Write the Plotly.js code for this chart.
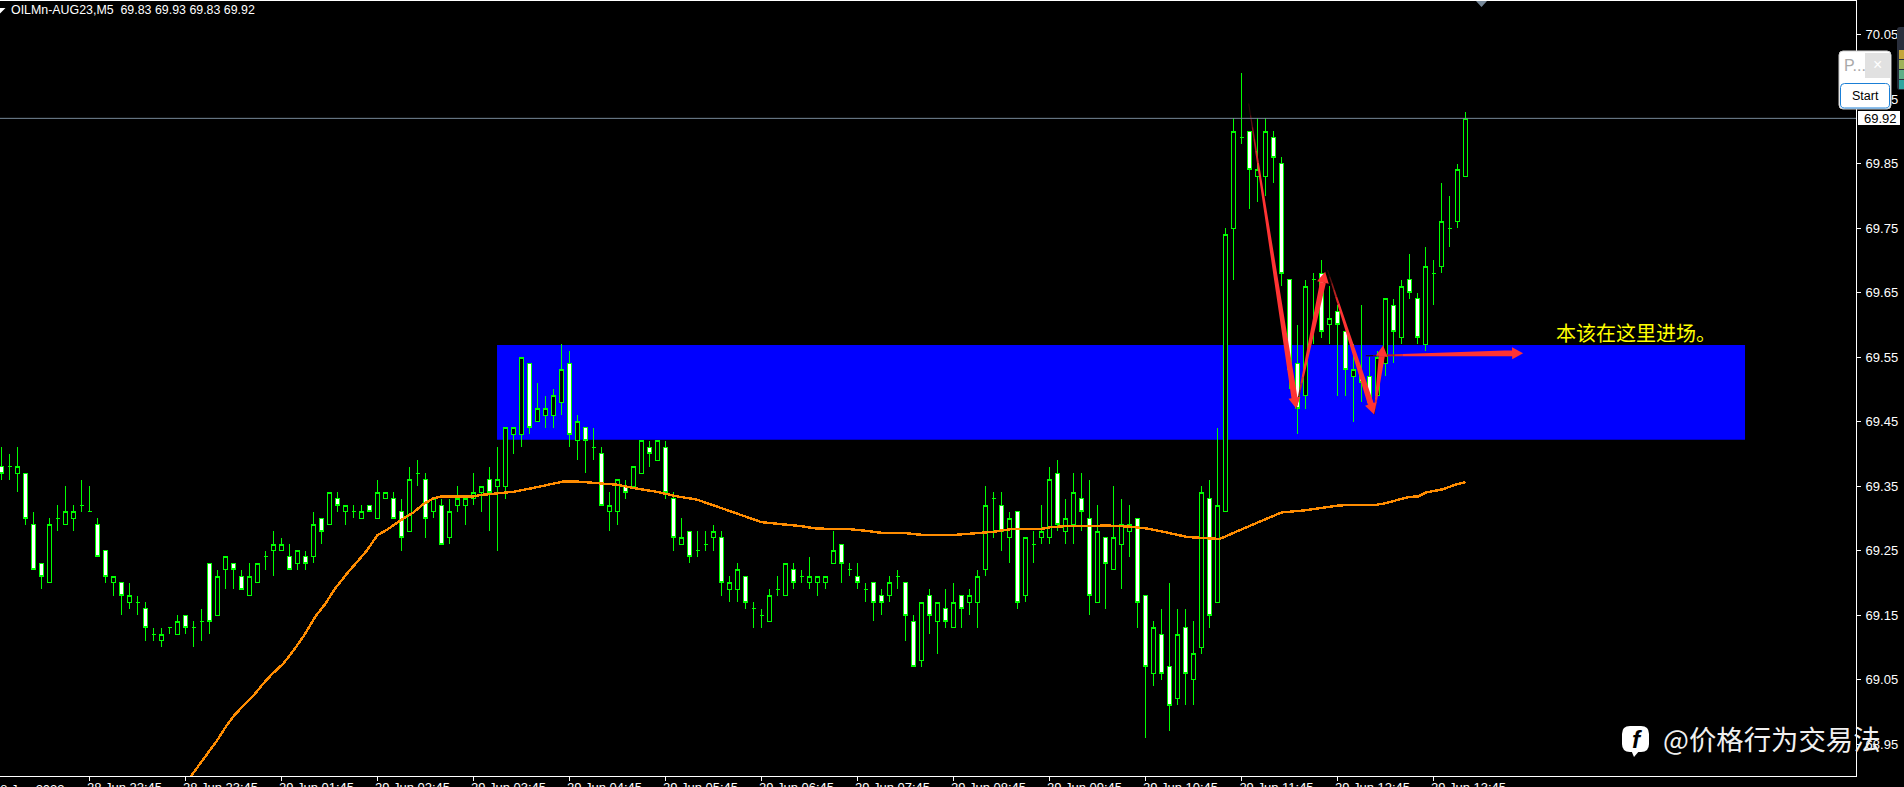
<!DOCTYPE html>
<html><head><meta charset="utf-8">
<script src="https://cdn.plot.ly/plotly-3.0.1.min.js"></script>
<style>html,body{margin:0;padding:0;background:#000;overflow:hidden}#c{width:1904px;height:787px}
.main-svg .boxlayer path{shape-rendering:crispEdges !important}
.main-svg .scatterlayer path.js-line{shape-rendering:crispEdges !important}
</style>
</head><body><div id="c"></div>
<script>
const open_ = [69.38,69.38,69.37,69.37,69.29,69.23,69.20,69.30,69.29,69.30,69.32,69.31,69.29,69.25,69.20,69.20,69.17,69.17,69.16,69.12,
69.11,69.13,69.12,69.15,69.13,69.14,69.23,69.15,69.22,69.23,69.21,69.18,69.20,69.24,69.25,69.25,69.24,69.23,69.24,69.24,
69.30,69.29,69.33,69.31,69.31,69.30,69.32,69.30,69.33,69.33,69.31,69.28,69.37,69.36,69.31,69.32,69.27,69.32,69.32,69.33,
69.34,69.36,69.35,69.35,69.43,69.43,69.54,69.45,69.46,69.46,69.48,69.54,69.42,69.44,69.41,69.40,69.31,69.31,69.35,69.35,
69.37,69.41,69.39,69.41,69.33,69.26,69.28,69.25,69.26,69.27,69.27,69.19,69.19,69.21,69.16,69.15,69.14,69.19,69.18,69.22,
69.21,69.20,69.20,69.20,69.23,69.26,69.22,69.21,69.19,69.20,69.18,69.18,69.21,69.20,69.14,69.08,69.18,69.14,69.16,69.13,
69.18,69.17,69.17,69.22,69.33,69.32,69.27,69.31,69.18,69.26,69.27,69.27,69.37,69.28,69.29,69.33,69.30,69.17,69.27,69.22,
69.26,69.28,69.30,69.18,69.06,69.12,69.07,69.02,69.13,69.05,69.10,69.33,69.17,69.31,69.75,69.89,69.90,69.83,69.83,69.89,
69.85,69.67,69.54,69.49,69.67,69.68,69.60,69.62,69.59,69.52,69.52,69.52,69.49,69.54,69.63,69.58,69.67,69.64,69.57,69.68,
69.69,69.75,69.76,69.83];
const high = [69.41,69.40,69.41,69.37,69.31,69.23,69.30,69.32,69.35,69.32,69.36,69.35,69.30,69.25,69.21,69.20,69.20,69.18,69.17,69.13,
69.13,69.13,69.15,69.15,69.14,69.16,69.23,69.22,69.24,69.23,69.22,69.23,69.23,69.25,69.28,69.27,69.26,69.25,69.25,69.31,
69.30,69.34,69.34,69.32,69.32,69.32,69.32,69.36,69.34,69.34,69.33,69.38,69.39,69.37,69.33,69.33,69.33,69.35,69.33,69.37,
69.35,69.38,69.41,69.44,69.44,69.55,69.54,69.51,69.49,69.50,69.57,69.56,69.46,69.44,69.44,69.41,69.34,69.36,69.36,69.38,
69.42,69.42,69.42,69.42,69.34,69.30,69.28,69.28,69.28,69.29,69.28,69.21,69.23,69.21,69.17,69.16,69.19,69.21,69.23,69.23,
69.22,69.24,69.21,69.21,69.28,69.26,69.23,69.23,69.20,69.20,69.19,69.21,69.22,69.20,69.15,69.17,69.19,69.17,69.19,69.20,
69.18,69.19,69.22,69.35,69.34,69.34,69.31,69.31,69.27,69.28,69.32,69.38,69.39,69.33,69.37,69.37,69.36,69.32,69.27,69.35,
69.33,69.32,69.30,69.18,69.14,69.16,69.20,69.16,69.16,69.14,69.35,69.36,69.44,69.75,69.92,69.99,69.90,69.92,69.92,69.90,
69.86,69.67,69.60,69.67,69.68,69.70,69.66,69.63,69.59,69.57,69.63,69.55,69.56,69.64,69.64,69.67,69.71,69.65,69.72,69.70,
69.82,69.80,69.85,69.93];
const low = [69.36,69.36,69.34,69.29,69.22,69.19,69.20,69.28,69.29,69.28,69.31,69.31,69.24,69.20,69.18,69.15,69.16,69.15,69.11,69.11,
69.10,69.12,69.12,69.12,69.10,69.11,69.12,69.15,69.19,69.19,69.19,69.18,69.20,69.22,69.21,69.25,69.22,69.22,69.22,69.23,
69.26,69.29,69.31,69.29,69.30,69.30,69.31,69.30,69.33,69.30,69.25,69.28,69.35,69.27,69.30,69.26,69.26,69.31,69.29,69.32,
69.31,69.28,69.25,69.33,69.40,69.41,69.43,69.45,69.44,69.44,69.46,69.41,69.39,69.37,69.39,69.32,69.28,69.29,69.33,69.35,
69.37,69.38,69.39,69.33,69.25,69.26,69.23,69.24,69.25,69.25,69.18,69.17,69.17,69.16,69.13,69.13,69.14,69.18,69.18,69.19,
69.20,69.19,69.18,69.19,69.23,69.20,69.21,69.19,69.17,69.14,69.15,69.17,69.19,69.11,69.07,69.07,69.12,69.09,69.13,69.13,
69.13,69.15,69.13,69.21,69.27,69.25,69.23,69.16,69.17,69.23,69.26,69.26,69.28,69.26,69.26,69.28,69.15,69.17,69.16,69.22,
69.19,69.24,69.13,68.96,69.04,69.05,68.97,69.01,69.01,69.01,69.09,69.13,69.17,69.31,69.67,69.88,69.78,69.79,69.80,69.82,
69.66,69.50,69.43,69.47,69.57,69.58,69.57,69.49,69.49,69.45,69.48,69.48,69.49,69.52,69.54,69.57,69.64,69.57,69.56,69.63,
69.68,69.72,69.75,69.83];
const close_ = [69.37,69.38,69.38,69.30,69.22,69.21,69.29,69.30,69.31,69.31,69.32,69.31,69.24,69.21,69.21,69.18,69.18,69.17,69.13,69.12,
69.12,69.13,69.14,69.13,69.13,69.14,69.14,69.21,69.24,69.22,69.19,69.21,69.23,69.24,69.26,69.26,69.22,69.25,69.23,69.29,
69.28,69.34,69.32,69.32,69.31,69.31,69.31,69.34,69.34,69.30,69.27,69.36,69.37,69.30,69.33,69.26,69.31,69.33,69.33,69.34,
69.35,69.34,69.36,69.44,69.44,69.55,69.44,69.47,69.47,69.49,69.53,69.43,69.45,69.42,69.41,69.32,69.32,69.36,69.34,69.38,
69.42,69.40,69.42,69.34,69.27,69.27,69.24,69.25,69.26,69.28,69.20,69.20,69.22,69.17,69.16,69.15,69.18,69.19,69.23,69.20,
69.21,69.21,69.21,69.21,69.25,69.23,69.22,69.20,69.19,69.17,69.17,69.20,69.21,69.15,69.07,69.17,69.15,69.17,69.14,69.17,
69.16,69.18,69.21,69.32,69.33,69.28,69.30,69.17,69.27,69.26,69.28,69.36,69.29,69.30,69.34,69.31,69.18,69.28,69.23,69.27,
69.29,69.29,69.17,69.07,69.13,69.06,69.01,69.12,69.06,69.09,69.34,69.15,69.32,69.74,69.90,69.89,69.84,69.84,69.90,69.86,
69.68,69.53,69.47,69.66,69.67,69.59,69.61,69.60,69.53,69.53,69.51,69.48,69.55,69.64,69.59,69.66,69.65,69.58,69.69,69.68,
69.76,69.75,69.84,69.92];
const candleIndex = open_.map((_, i) => i);

const maIndex = [23.67,24.83,26.92,28,29,29.67,31.5,32.75,33.79,35.25,36.5,37.75,39.2,40.46,41.7,43.17,44.6,45.67,47,48.17,50.04,51.5,52.75,54,55.04,59,59.83,
64,66.08,68.17,70.25,71.9,74,76.9,79.4,81.9,84.4,86.9,89,91.1,93.2,95,97.3,99.8,101.9,106,107.75,110.25,112.9,115.25,119,122.3,124,126.1,129.8,131.1,133.2,136.9,137.75,141,143.2,145.25,148.2,150.7,152.3,155.25,157.3,160,162.75,165.7,167.3,171.9,172.9,175,176,177.1,178.1,180.2,181.7,183];
const maValue = [68.900,68.920,68.955,68.976,68.993,69.002,69.025,69.044,69.058,69.075,69.095,69.117,69.147,69.167,69.191,69.214,69.235,69.250,69.274,69.282,69.298,69.309,69.322,69.331,69.334,69.334,69.336,
69.341,69.346,69.352,69.357,69.357,69.355,69.352,69.346,69.341,69.334,69.329,69.320,69.311,69.302,69.294,69.291,69.288,69.284,69.283,69.281,69.277,69.277,69.274,69.274,69.277,69.279,69.283,69.283,69.286,69.288,69.288,69.289,69.287,69.284,69.279,69.271,69.269,69.268,69.284,69.295,69.309,69.312,69.317,69.320,69.321,69.323,69.330,69.333,69.334,69.340,69.345,69.352,69.356];

const xTickVals = [11,23,35,47,59,71,83,95,107,119,131,143,155,167,179];
const xTickText = ["28 Jun 22:45","28 Jun 23:45","29 Jun 01:45","29 Jun 02:45","29 Jun 03:45","29 Jun 04:45","29 Jun 05:45","29 Jun 06:45","29 Jun 07:45","29 Jun 08:45","29 Jun 09:45","29 Jun 10:45","29 Jun 11:45","29 Jun 12:45","29 Jun 13:45"];
const yTickVals = [68.95,69.05,69.15,69.25,69.35,69.45,69.55,69.65,69.75,69.85,69.95,70.05];

const zoneIndex = [61.94,217.94];
const zonePrice = [69.4218,69.5686];

// arrows: [tail index, tail price, tip index, tip price]
const arrow1 = [155.9,69.943,161.83,69.470];
const arrow2 = [161.83,69.470,165.46,69.682];
const arrow3 = [165.75,69.685,171.58,69.461];
const arrow4 = [171.58,69.461,172.71,69.568];
const arrow5 = [170.54,69.552,190.2,69.556];
const arrows = [arrow1,arrow2,arrow3,arrow4,arrow5];

const headerText = "OILMn-AUG23,M5\u00A0\u00A069.83 69.93 69.83 69.92";
const firstDateLabel = "28 Jun 2023";
const noteText = "本该在这里进场。";
const watermarkText = "@价格行为交易法";
const lastPrice = close_[close_.length-1];

// --- geometry of the plot area
const W=1904,H=787,mL=0,mR=48,mT=1,mB=11;
const pw=W-mL-mR, ph=H-mT-mB;
const xRange=[-0.1875,231.8125];
const yRange=[70.05-(776-34.5)/645,70.05+(34.5-1)/645];
const pxPerX=pw/(xRange[1]-xRange[0]), pxPerY=ph/(yRange[1]-yRange[0]);
const PX=x=>x/pw, PY=y=>(mT+ph-y)/ph;

function pathPx(pts){return pts.map((p,i)=>(i?'L':'M')+PX(p[0]).toFixed(6)+' '+PY(p[1]).toFixed(6)).join(' ')+' Z';}
function roundRect(x0,y0,x1,y1,r){
  const c=(x,y)=>PX(x).toFixed(6)+' '+PY(y).toFixed(6);
  return 'M'+c(x0+r,y0)+' L'+c(x1-r,y0)+' Q'+c(x1,y0)+' '+c(x1,y0+r)+' L'+c(x1,y1-r)+' Q'+c(x1,y1)+' '+c(x1-r,y1)+' L'+c(x0+r,y1)+' Q'+c(x0,y1)+' '+c(x0,y1-r)+' L'+c(x0,y0+r)+' Q'+c(x0,y0)+' '+c(x0+r,y0)+' Z';
}
const pShape=(path,fill,line,lw)=>({type:'path',xref:'paper',yref:'paper',layer:'above',path,fillcolor:fill,line:{color:line||fill,width:lw===undefined?0:lw}});
const pRect=(x0,y0,x1,y1,fill)=>({type:'rect',xref:'paper',yref:'paper',layer:'above',x0:PX(x0),x1:PX(x1),y0:PY(y1),y1:PY(y0),fillcolor:fill,line:{width:0}});
const pText=(x,y,text,size,color,family,anchor,extra)=>Object.assign({xref:'paper',yref:'paper',x:PX(x),y:PY(y),text,showarrow:false,xanchor:anchor||'left',yanchor:'middle',borderpad:0,font:{size,color,family:family||'"Liberation Sans",Arial,sans-serif'}},extra||{});

// --- tapered arrows, from the arrow arrays through data units
const fadeColors=['#2a0808','#5a1010','#8a1818','#b82020','#e02828','#ff3333'];
const arrowX=fadeColors.map(()=>[]), arrowY=fadeColors.map(()=>[]);
arrows.forEach(a=>{
  const dx=(a[2]-a[0])*pxPerX, dy=-(a[3]-a[1])*pxPerY, L=Math.hypot(dx,dy);
  const ux=dx/L, uy=dy/L, nx=-uy, ny=ux;
  const headLen=11, headHalf=6, shaftMax=3, tailHalf=0.5;
  const toData=(t,off)=>[a[0]+(ux*t+nx*off)/pxPerX, a[1]-(uy*t+ny*off)/pxPerY];
  const shaftEnd=L-headLen;
  const halfAt=t=>tailHalf+(shaftMax-tailHalf)*t/shaftEnd;
  const fadeLen=Math.min(60,shaftEnd*0.25);
  const stops=[0,fadeLen*0.2,fadeLen*0.4,fadeLen*0.6,fadeLen*0.8,fadeLen,shaftEnd];
  for(let i=0;i<fadeColors.length;i++){
    const t0=stops[i],t1=stops[i+1];
    [toData(t0,halfAt(t0)),toData(t1,halfAt(t1)),toData(t1,-halfAt(t1)),toData(t0,-halfAt(t0)),toData(t0,halfAt(t0))].forEach(p=>{arrowX[i].push(p[0]);arrowY[i].push(p[1]);});
    arrowX[i].push(null);arrowY[i].push(null);
  }
  const last=fadeColors.length-1;
  [toData(shaftEnd,headHalf),toData(L,0),toData(shaftEnd,-headHalf),toData(shaftEnd,headHalf)].forEach(p=>{arrowX[last].push(p[0]);arrowY[last].push(p[1]);});
  arrowX[last].push(null);arrowY[last].push(null);
});

const traces=[
 {type:'candlestick',x:candleIndex,open:open_,high,low,close:close_,whiskerwidth:0,
  increasing:{line:{color:'#00ff00',width:1},fillcolor:'#000000'},
  decreasing:{line:{color:'#00ff00',width:1},fillcolor:'#ffffff'},hoverinfo:'skip',showlegend:false},
 {type:'scatter',mode:'lines',x:maIndex,y:maValue,line:{color:'#ff8c00',width:2.4},hoverinfo:'skip',showlegend:false}
].concat(fadeColors.map((c,i)=>({type:'scatter',mode:'lines',x:arrowX[i],y:arrowY[i],fill:'toself',fillcolor:c,line:{width:0,color:c},hoverinfo:'skip',showlegend:false})));

const meterColors=['#c4a63a','#9fb25a','#5fae86','#2fa6a0'];
const shapes=[
 {type:'rect',xref:'x',yref:'y',layer:'below',x0:zoneIndex[0],x1:zoneIndex[1],y0:zonePrice[0],y1:zonePrice[1],fillcolor:'#0000ff',line:{width:0}},
 {type:'line',xref:'paper',yref:'y',layer:'above',x0:0,x1:1,y0:lastPrice,y1:lastPrice,line:{color:'#778899',width:1}},
 pShape(pathPx([[1476,1],[1487,1],[1481.5,7]]),'#778899'),
 pShape(pathPx([[0,8],[5.5,8],[0,13.5]]),'#ffffff'),
 pRect(1858,111,1900,125,'#ffffff'),
 pShape(roundRect(1897,27,1910,90,3),'#2a2f3c')
];
meterColors.forEach((c,i)=>shapes.push(pRect(1899,50+i*10,1904,59+i*10,c)));
shapes.push(
 pShape(roundRect(1839,51,1891,109,4),'#ffffff','#d0d0d0',1),
 pRect(1865,53,1890,78,'#e1e1e1'),
 pShape(roundRect(1840.5,83.5,1889.5,108,4),'#ffffff','#1a7fd6',1),
 pShape(roundRect(1622,726,1649,752,8),'#ffffff'),
 pShape(pathPx([[1631,750],[1640,750],[1634,757]]),'#ffffff')
);

const annotations=[
 pText(10,10,headerText,12.4,'#ffffff'),
 pText(-8,789,firstDateLabel,13,'#ffffff'),
 pText(1555,333,noteText,20,'#ffff00','"Noto Sans CJK SC"'),
 pText(1863,118,lastPrice.toFixed(2),13,'#000000'),
 pText(1843,65.5,'P...',16,'#a9a9a9'),
 pText(1877.5,64,'×',16,'#ffffff',null,'center'),
 pText(1865,96,'Start',12.5,'#000000',null,'center'),
 pText(1637,739,'<b><i>f</i></b>',24,'#000000',null,'center'),
 pText(1662,738,watermarkText,27.4,'#f0f0f0','"Noto Sans CJK SC"')
];

const layout={
 width:W,height:H,margin:{l:mL,r:mR,t:mT,b:mB,pad:0},
 paper_bgcolor:'#000000',plot_bgcolor:'#000000',showlegend:false,hovermode:false,
 boxgap:0.5,boxgroupgap:0,
 xaxis:{type:'linear',range:xRange,autorange:false,rangeslider:{visible:false},showgrid:false,zeroline:false,
  tickmode:'array',tickvals:xTickVals,ticktext:xTickText,ticks:'outside',ticklen:4,tickwidth:1,tickcolor:'#ffffff',
  tickangle:0,ticklabelshift:35,ticklabelstandoff:-5,
  tickfont:{family:'"Liberation Sans",Arial,sans-serif',size:13,color:'#ffffff'},
  showline:true,linecolor:'#ffffff',linewidth:1,mirror:true},
 yaxis:{type:'linear',side:'right',range:yRange,autorange:false,showgrid:false,zeroline:false,
  tickmode:'array',tickvals:yTickVals,ticktext:yTickVals.map(v=>v.toFixed(2)),ticks:'outside',ticklen:4,tickwidth:1,tickcolor:'#ffffff',
  ticklabelstandoff:2,tickfont:{family:'"Liberation Sans",Arial,sans-serif',size:13,color:'#ffffff'},
  showline:true,linecolor:'#ffffff',linewidth:1},
 shapes,annotations
};
Plotly.newPlot('c',traces,layout,{displayModeBar:false,staticPlot:true});
</script></body></html>
